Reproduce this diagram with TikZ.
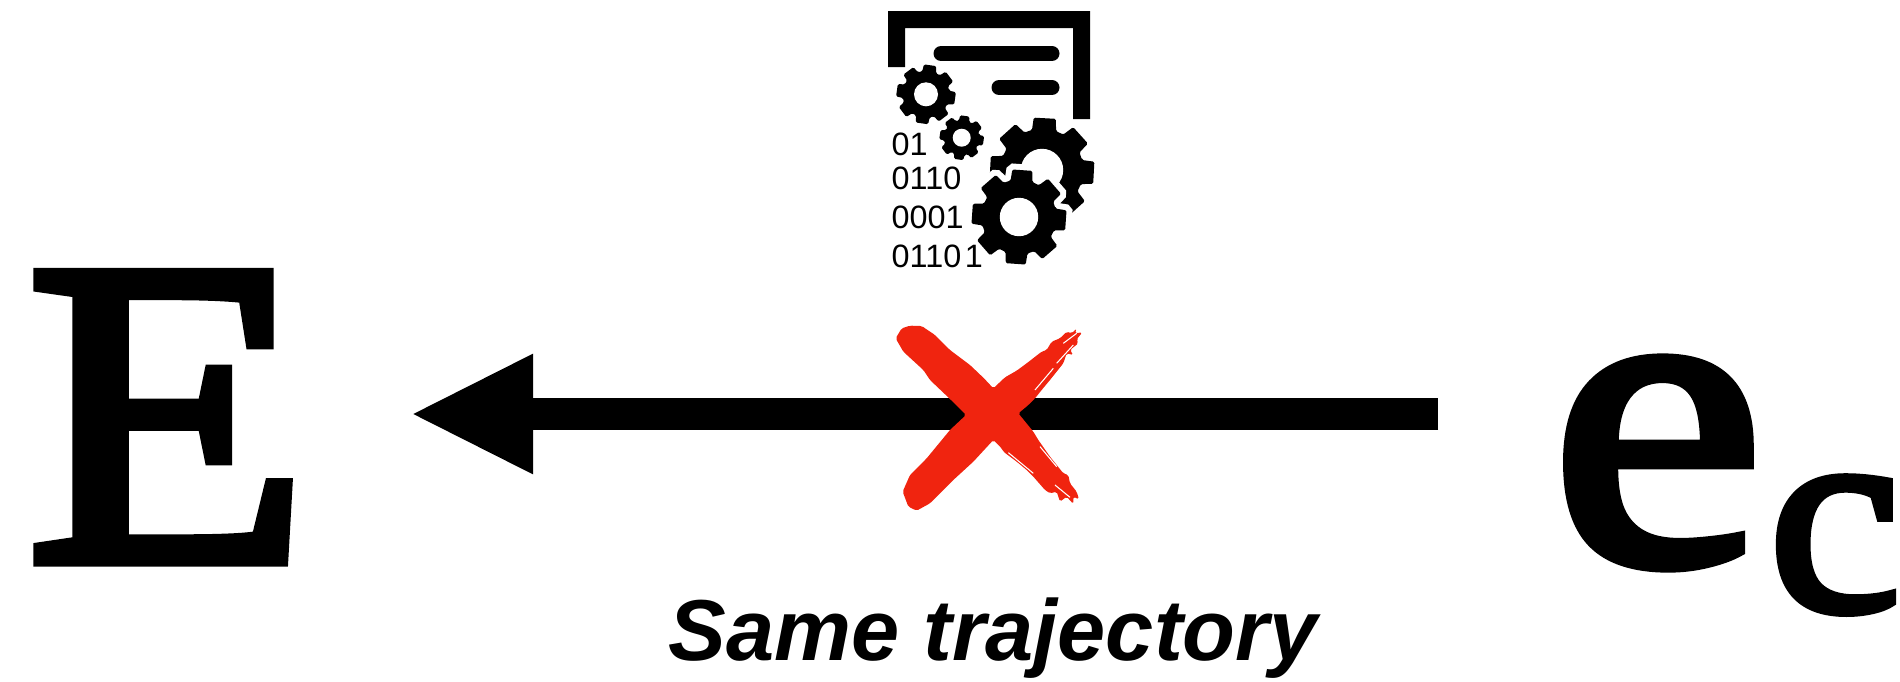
\documentclass[tikz,border=0pt]{standalone}
\usepackage{fontspec}
\setmainfont{Liberation Serif}
\setsansfont{Liberation Sans}
\newfontfamily\semibold[FakeBold=3,FakeStretch=1.06]{Liberation Serif}
\newfontfamily\semiwide[FakeBold=3,FakeStretch=1.12]{Liberation Serif}
\newfontfamily\bitfont[WordSpace=.4]{Liberation Sans}
\usetikzlibrary{arrows.meta}
\definecolor{xred}{HTML}{F0240F}
\tikzstyle{bigE}=[inner sep=0, anchor=base west, font=\fontsize{124}{124}\semibold]
\tikzstyle{bige}=[inner sep=0, anchor=base west, font=\fontsize{122}{122}\semiwide]
\tikzstyle{subc}=[inner sep=0, anchor=base west, font=\fontsize{80}{80}\semibold]
\tikzstyle{bits}=[inner sep=0, anchor=base west, font=\fontsize{9.2}{9.2}\bitfont]
\tikzstyle{capt}=[inner sep=0, anchor=base, font=\fontsize{24.6}{24.6}\selectfont\sffamily\bfseries\itshape]
\tikzstyle{bar}=[line width=4.27pt, line cap=round]
\tikzstyle{big arrow}=[line width=9.1pt, -{Triangle[length=35pt,width=31.5pt]}]
\newcommand{\gear}[5][]{
\begin{scope}[shift={(#2,#3)}]
\path[fill=black, rounded corners=.4pt, #1] (#5-17:.78*#4)
	\foreach \i in {0,...,7}
		{-- ({#5+45*\i-17}:{.78*#4}) -- ({#5+45*\i-12}:{#4}) -- ({#5+45*\i+12}:{#4}) -- ({#5+45*\i+17}:{.78*#4})}
	-- cycle;
\fill[white] (0,0) circle ({.4*#4});
\end{scope}
}

\begin{document}
\begin{tikzpicture}[x=.01cm, y=-.01cm]
\useasboundingbox (0,0) rectangle (1900,681);
\draw (26,560) node[bigE](E) {E};
\draw (1550,562) node[bige](e) {e};
\draw (1768,610) node[subc](c) {c};
\coordinate (tail) at (1438,414);
\coordinate (tip) at (410,414);
\draw[big arrow] (tail)--(tip);
\draw (993,660) node[capt](trajectory) {Same trajectory};
\fill (888,11)--(1090,11)--(1090,119)--(1073,119)--(1073,28)--(905,28)--(905,67)--(888,67)--cycle;
\draw[bar] (941,53.5)--(1052,53.5);
\draw[bar] (999,87.5)--(1052,87.5);
\gear{926}{94.3}{30}{8}
\gear{961.7}{137.7}{22.5}{8}
\gear{1042}{170}{53}{3}
\gear[draw=white, line width=3.4pt]{1019}{217}{48}{4}
\gear{1019}{217}{48}{4}
\draw (891,155) node[bits](b1) {01};
\draw (891,189) node[bits](b2) {0110};
\draw (891,228) node[bits](b3) {0001};
\draw (891,267) node[bits](b4) {0110 1};
\begin{scope}[shift={(860,300)}, scale=.3333]
\fill[xred, rounded corners=.5pt] (107,115)--(125,85)--(150,77)--(185,78)--(225,105)--(270,150)--(330,195)--(372,235)--(400,265)
	--(435,232)--(470,212)--(500,190)--(545,155)--(560,150)--(575,125)--(600,115)--(620,95)--(635,100)--(650,85)--(645,100)--(667,97)
	--(650,118)--(655,130)--(630,150)--(640,165)--(620,160)--(610,190)--(590,215)--(570,240)--(545,270)--(525,295)--(505,315)--(475,340)
	--(520,395)--(535,420)--(570,470)--(610,520)--(625,525)--(630,550)--(650,575)--(657,598)--(640,590)--(640,612)--(620,590)--(600,605)
	--(590,575)--(570,580)--(555,570)--(520,530)--(500,510)--(470,485)--(430,455)--(425,445)--(400,420)
	--(340,485)--(280,540)--(210,610)--(170,632)--(145,620)--(128,575)--(150,525)--(200,475)--(270,390)--(318,345)
	--(270,297)--(210,240)--(190,210)--(130,155)--cycle;
\foreach \a/\b/\c/\d in {590/190/640/135, 525/270/580/205, 610/130/650/100, 445/458/520/520, 585/555/630/592, 540/440/590/500}
	{\draw[white, line width=.3pt] (\a,\b)--(\c,\d);}
\end{scope}
\end{tikzpicture}
\end{document}
